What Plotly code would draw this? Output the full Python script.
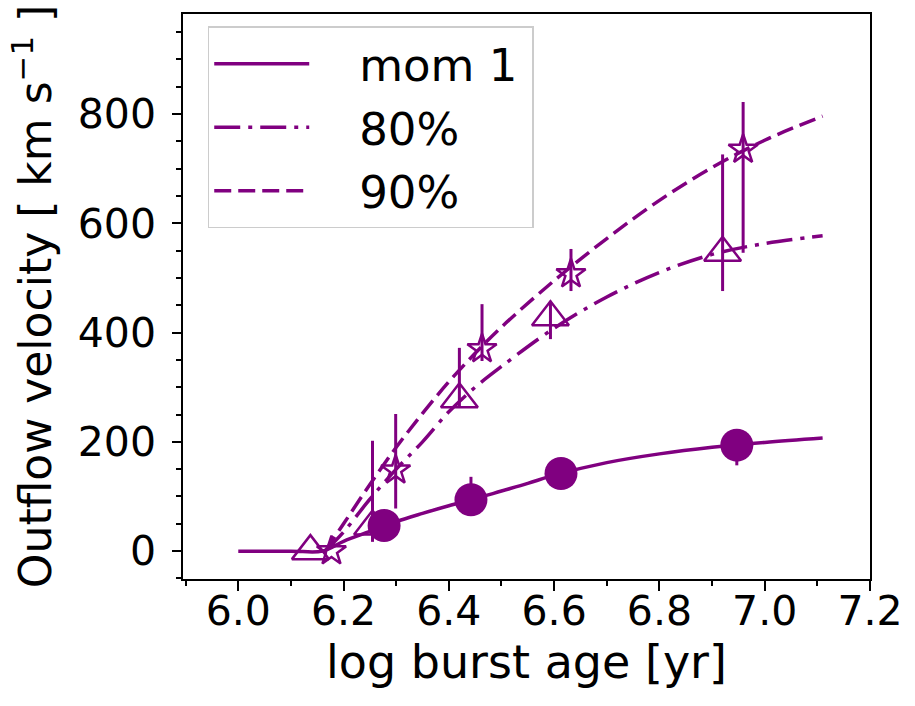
import plotly.graph_objects as go

PURPLE = "#800080"

# ---- data ----
# fitted curves
fit_x_mom1 = [6.00, 6.10, 6.16, 6.20, 6.25, 6.30, 6.35, 6.40, 6.45, 6.50, 6.55, 6.60, 6.70, 6.80, 6.90, 7.00, 7.11]
fit_y_mom1 = [0, 0, 0, 18, 36, 54, 69, 83, 96, 110, 124, 139, 162, 178, 190, 199, 207]

fit_x_80 = [6.165, 6.20, 6.25, 6.30, 6.35, 6.40, 6.45, 6.50, 6.60, 6.70, 6.80, 6.90, 7.00, 7.11]
fit_y_80 = [0, 35, 95, 150, 200, 255, 300, 338, 408, 465, 510, 543, 563, 577]

fit_x_90 = [6.165, 6.20, 6.25, 6.30, 6.35, 6.40, 6.45, 6.50, 6.60, 6.70, 6.80, 6.90, 7.00, 7.11]
fit_y_90 = [0, 50, 122, 190, 252, 310, 362, 410, 495, 572, 642, 702, 752, 796]

# measured points
mom1_x = [6.277, 6.442, 6.613, 6.947]
mom1_y = [47, 94, 142, 194]
mom1_err_plus = [10, 42, 15, 20]
mom1_err_minus = [10, 25, 15, 37]

p80_x = [6.137, 6.255, 6.420, 6.593, 6.920]
p80_y = [0, 45, 278, 428, 546]
p80_err_plus = [0, 157, 94, 30, 180]
p80_err_minus = [0, 28, 15, 40, 70]

p90_x = [6.177, 6.299, 6.463, 6.632, 6.959]
p90_y = [0, 148, 370, 507, 735]
p90_err_plus = [0, 103, 82, 46, 87]
p90_err_minus = [0, 70, 22, 31, 189]

x_ticks = [6.0, 6.2, 6.4, 6.6, 6.8, 7.0, 7.2]
y_ticks = [0, 200, 400, 600, 800]

legend_names = ["mom 1", "80%", "90%"]

fig = go.Figure()

PAD_L = "\u2002\u2002"
PAD_R = "\u2009"

# fit curves (legend entries)
fig.add_trace(go.Scatter(x=fit_x_mom1, y=fit_y_mom1, mode="lines", name=PAD_L + legend_names[0] + PAD_R,
                         line=dict(color=PURPLE, width=3.5, shape="spline"),
                         legendgroup="a"))
fig.add_trace(go.Scatter(x=fit_x_80, y=fit_y_80, mode="lines", name=PAD_L + legend_names[1] + PAD_R,
                         line=dict(color=PURPLE, width=3.5, shape="spline", dash="26px,8px,4px,8px"),
                         legendgroup="b"))
fig.add_trace(go.Scatter(x=fit_x_90, y=fit_y_90, mode="lines", name=PAD_L + legend_names[2] + PAD_R,
                         line=dict(color=PURPLE, width=3.5, shape="spline", dash="17px,7px"),
                         legendgroup="c"))

# measured points with error bars
fig.add_trace(go.Scatter(x=mom1_x, y=mom1_y, mode="markers", showlegend=False,
                         marker=dict(symbol="circle", size=33, color=PURPLE),
                         error_y=dict(type="data", symmetric=False, array=mom1_err_plus,
                                      arrayminus=mom1_err_minus, color=PURPLE,
                                      thickness=3, width=0)))
fig.add_trace(go.Scatter(x=p80_x, y=p80_y, mode="markers", showlegend=False,
                         marker=dict(symbol="triangle-up-open", size=32, color=PURPLE,
                                     line=dict(width=2.5, color=PURPLE)),
                         error_y=dict(type="data", symmetric=False, array=p80_err_plus,
                                      arrayminus=p80_err_minus, color=PURPLE,
                                      thickness=3, width=0)))
fig.add_trace(go.Scatter(x=p90_x, y=p90_y, mode="markers", showlegend=False,
                         marker=dict(symbol="star-open", size=22, color=PURPLE,
                                     line=dict(width=2.5, color=PURPLE)),
                         error_y=dict(type="data", symmetric=False, array=p90_err_plus,
                                      arrayminus=p90_err_minus, color=PURPLE,
                                      thickness=3, width=0)))

FONT = "DejaVu Sans"

fig.update_layout(
    width=915, height=706,
    margin=dict(l=183, r=37, t=12, b=127),
    paper_bgcolor="white", plot_bgcolor="white",
    font=dict(family=FONT, color="black", size=41),
    legend=dict(x=0.036, y=0.978, xanchor="left", yanchor="top",
                bgcolor="white", bordercolor="#cccccc", borderwidth=1.5,
                font=dict(family=FONT, size=45, color="black"),
                itemwidth=95, tracegroupgap=2),
    xaxis=dict(range=[5.895, 7.2], tickvals=x_ticks, tickformat=".1f",
               ticks="outside", ticklen=10, tickwidth=1.5, tickcolor="black",
               showline=True, linecolor="black", linewidth=1.5, mirror=True,
               showgrid=False, zeroline=False, ticklabelstandoff=-15,
               tickfont=dict(family=FONT, size=41),
               minor=dict(dtick=0.1, tick0=6.0, ticks="outside", ticklen=5,
                          tickwidth=1.5, tickcolor="black", showgrid=False),
               title=dict(text="log burst age [yr]", font=dict(family=FONT, size=46),
                          standoff=2)),
    yaxis=dict(range=[-51, 983], tickvals=y_ticks,
               ticks="outside", ticklen=9, tickwidth=1.5, tickcolor="black",
               showline=True, linecolor="black", linewidth=1.5, mirror=True,
               showgrid=False, zeroline=False, ticklabelstandoff=8,
               tickfont=dict(family=FONT, size=41),
               minor=dict(dtick=50, tick0=0, ticks="outside", ticklen=5,
                          tickwidth=1.5, tickcolor="black", showgrid=False),
               title=dict(text="Outflow velocity [ km s<sup>−1</sup> ]",
                          font=dict(family=FONT, size=44), standoff=12)),
)

fig.write_html("out.html")
